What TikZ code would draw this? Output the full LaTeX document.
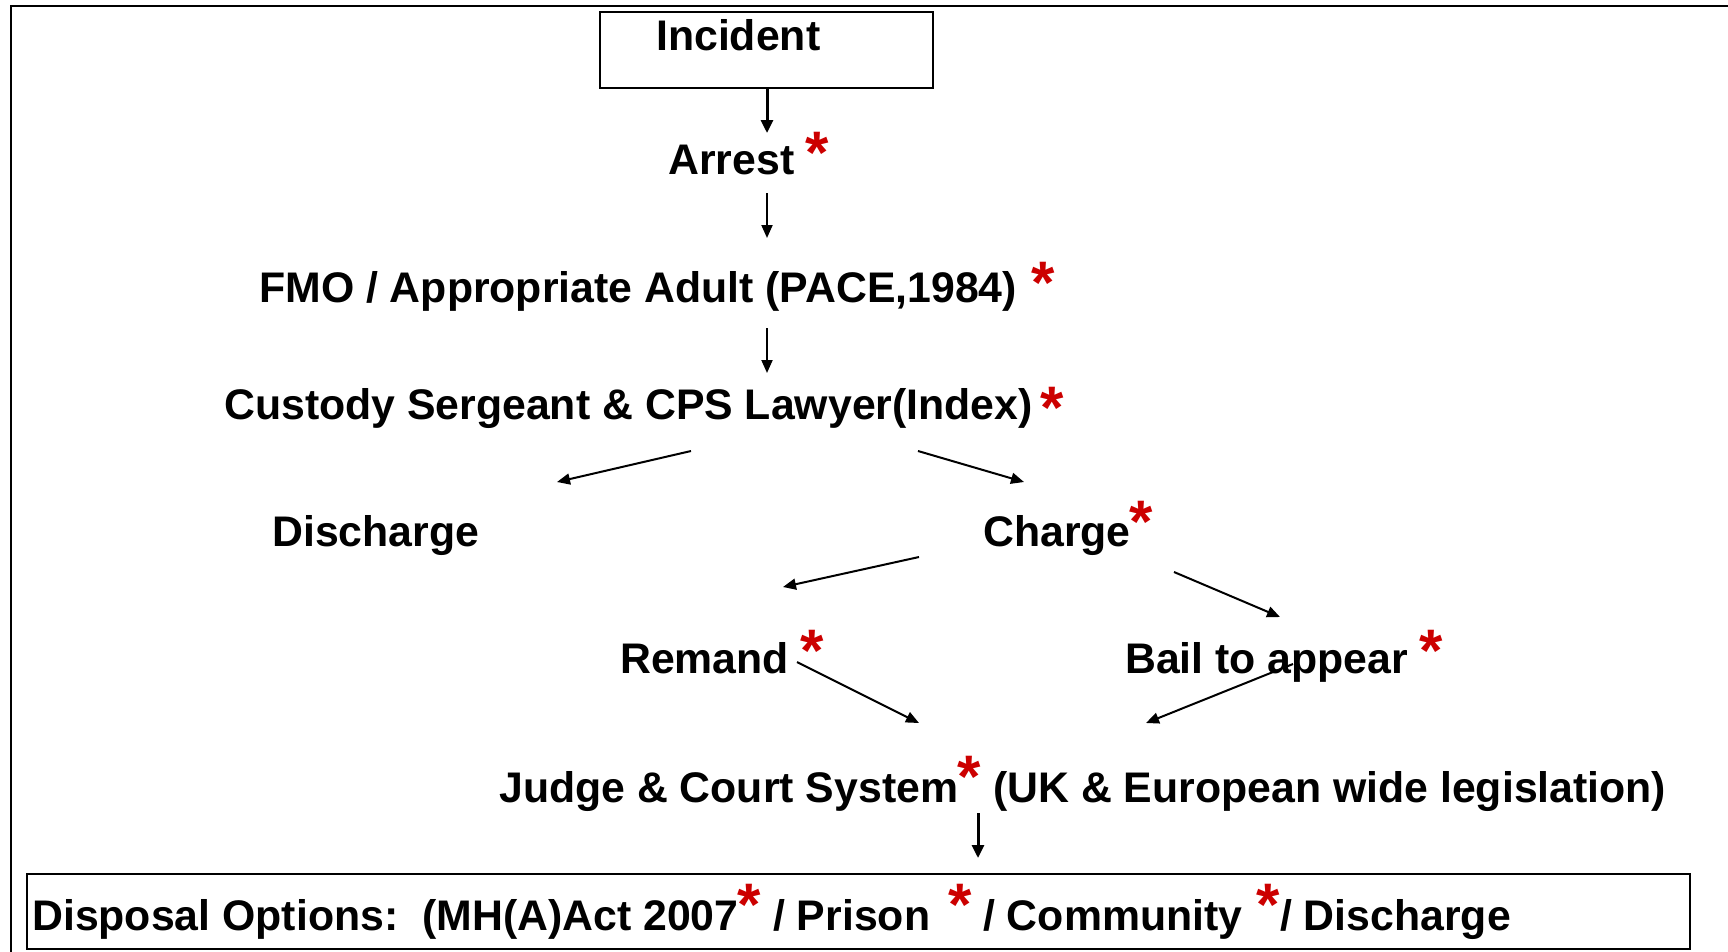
\documentclass[tikz,border=0pt]{standalone}
\usepackage{fontspec}
\setmainfont{Liberation Sans}
\usetikzlibrary{arrows.meta}
\definecolor{starred}{RGB}{204,0,0}
\begin{document}
\begin{tikzpicture}[x=1pt,y=-1pt,
  lbl/.style={anchor=base west, inner sep=0pt, font=\bfseries\fontsize{42.8}{48}\selectfont},
  star/.style={anchor=north, inner sep=0pt, text=starred, font=\bfseries\fontsize{60}{60}\selectfont},
  box/.style={draw, line width=2pt, anchor=north west, inner sep=0pt, outer sep=0pt},
  arr/.style={line width=2pt, -{Triangle[length=13pt,width=11pt]}},
  arrthick/.style={line width=3pt, -{Triangle[length=13pt,width=12pt]}},
  frame/.style={line width=2pt}
  ]
\useasboundingbox (0,0) rectangle (1728,951);
% outer frame (only top and left visible)
\coordinate (fbl) at (11,960);
\coordinate (ftl) at (11,6);
\coordinate (ftr) at (1740,6);
\draw[frame] (fbl) -- (ftl) -- (ftr);

% boxes
\node[box, minimum width=333pt, minimum height=76pt] (incbox) at (600,12) {};
\node[box, minimum width=1663pt, minimum height=75pt] (dispbox) at (27,874) {};

% texts
\node[lbl] (incident) at (656,50) {Incident};
\node[lbl] (arrest) at (668,174) {Arrest};
\node[star] (sarrest) at (817,132) {*};
\node[lbl] (fmo) at (259,302) {FMO / Appropriate Adult (PACE,1984)};
\node[star] (sfmo) at (1043,262) {*};
\node[lbl] (custody) at (224,419) {Custody Sergeant \& CPS Lawyer(Index)};
\node[star] (scustody) at (1052,387) {*};
\node[lbl] (discharge) at (272,546) {Discharge};
\node[lbl] (charge) at (983,546) {Charge};
\node[star] (scharge) at (1141,501) {*};
\node[lbl] (remand) at (620,673) {Remand};
\node[star] (sremand) at (812,630) {*};
\node[lbl] (bail) at (1125,673) {Bail to appear};
\node[star] (sbail) at (1431,630) {*};
\node[lbl] (judge) at (499,802) {Judge \& Court System};
\node[star] (sjudge) at (969,756) {*};
\node[lbl] (legis) at (993,802) {(UK \& European wide legislation)};
\node[lbl] (disp1) at (32,930) {Disposal Options:\ \ (MH(A)Act 2007};
\node[star] (sdisp1) at (749,884) {*};
\node[lbl] (disp2) at (773,930) {/ Prison};
\node[star] (sdisp2) at (960,884) {*};
\node[lbl] (disp3) at (983,930) {/ Community};
\node[star] (sdisp3) at (1268,884) {*};
\node[lbl] (disp4) at (1280,930) {/ Discharge};

% connector end points
\coordinate (a1s) at (767,88);   \coordinate (a1e) at (767,133);
\coordinate (a2s) at (767,193);  \coordinate (a2e) at (767,238);
\coordinate (a3s) at (767,328);  \coordinate (a3e) at (767,373);
\coordinate (a4s) at (691,451);  \coordinate (a4e) at (557,482);
\coordinate (a5s) at (918,451);  \coordinate (a5e) at (1024,482);
\coordinate (a6s) at (919,557);  \coordinate (a6e) at (783,587);
\coordinate (a7s) at (1174,572); \coordinate (a7e) at (1280,617);
\coordinate (a8s) at (797,662);  \coordinate (a8e) at (919,723);
\coordinate (a9s) at (1293,664); \coordinate (a9e) at (1146,723);
\coordinate (a10s) at (978,813); \coordinate (a10e) at (978,858);

\draw[arrthick] (a1s) -- (a1e);
\draw[arr] (a2s) -- (a2e);
\draw[arr] (a3s) -- (a3e);
\draw[arr] (a4s) -- (a4e);
\draw[arr] (a5s) -- (a5e);
\draw[arr] (a6s) -- (a6e);
\draw[arr] (a7s) -- (a7e);
\draw[arr] (a8s) -- (a8e);
\draw[arr] (a9s) -- (a9e);
\draw[arrthick] (a10s) -- (a10e);
\end{tikzpicture}
\end{document}
